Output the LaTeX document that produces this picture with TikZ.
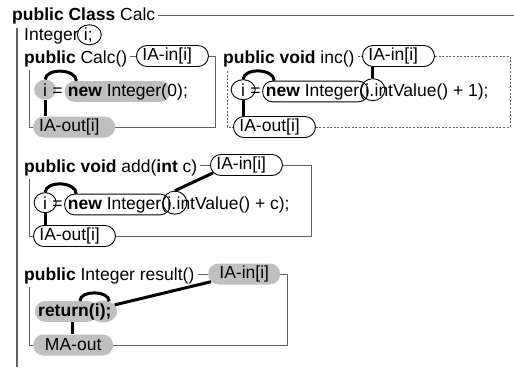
\documentclass[tikz,border=0pt]{standalone}
\usepackage{fontspec}
\setmainfont{Liberation Sans}
\usetikzlibrary{shapes.geometric,calc,fit,backgrounds}
\definecolor{shade}{gray}{0.75}
\definecolor{framegray}{gray}{0.38}
% a word space that survives at the end of a node
\newcommand{\gapsp}{\ \mbox{}}
\begin{document}
\begin{tikzpicture}[x=1bp,y=-1bp,
  font=\fontsize{17.5bp}{20bp}\selectfont,
  codetxt/.style={inner sep=0pt, anchor=base west},
  capsule/.style={rectangle, rounded corners=10.5bp, minimum height=21bp,
    inner xsep=6bp, inner ysep=0pt, anchor=west, align=left},
  wcap/.style={capsule, draw, line width=0.9bp},
  gcap/.style={capsule, fill=shade},
  ovell/.style={ellipse, inner sep=0pt, minimum width=22bp, minimum height=20bp},
  ovcap/.style={rectangle, rounded corners=10bp, inner xsep=3bp, inner ysep=2bp},
  wline/.style={draw, line width=0.9bp},
  gfill/.style={fill=shade},
  oframe/.style={draw=framegray, line width=1.6bp},
  mframe/.style={draw=framegray, line width=0.9bp},
  dframe/.style={draw=framegray, line width=0.9bp, dash pattern=on 2bp off 1.6bp},
  dflow/.style={line width=3bp},
]
\useasboundingbox (0,0) rectangle (514,367);

% class header and class frame
\node[codetxt] (cls) at (12,20) {\textbf{public Class} Calc};
\coordinate (clsE) at ([xshift=3bp]cls.east);
\coordinate (clsR) at (514,0);
\draw[mframe] (clsE) -- (clsE -| clsR);
\coordinate (clsT) at (17,28);
\coordinate (clsB) at (17,367);
\draw[oframe] (clsT) -- (clsB);

% field
\node[codetxt] (fld) at (24,40) {Integer\gapsp};
\node[codetxt] (fldi) at (fld.base east) {i;};
\node[ovell, wline, minimum width=24bp] (fldring) at ([xshift=1bp]fldi.center) {};

% ---- constructor Calc()
\node[codetxt] (ch) at (24,63) {\textbf{public} Calc()};
\coordinate (chE) at ([xshift=3bp]ch.east);
\node[wcap, text width=60bp] (cin) at (136,56) {IA-in[i]};
\draw[mframe] (chE |- cin.west) -- (cin.west);
\coordinate (cR) at (215,0);
\node[gcap, text width=70bp] (cout) at (33,127) {IA-out[i]};
\draw[mframe] (cin.east) -- (cin.east -| cR) |- (cout.east);
\coordinate (cL) at (29,70);
\draw[mframe] (cL) |- (cout.west);

\node[codetxt] (c1) at (43,96) {i};
\node[codetxt] (c2) at (c1.base east) {\gapsp=\gapsp};
\node[codetxt] (c3) at (c2.base east) {\textbf{new} Integer(};
\node[codetxt] (c4) at (c3.base east) {0);};
\begin{scope}[on background layer]
  \node[ovell, gfill] (cvar) at (c1.center) {};
  \node[ovcap, gfill, fit=(c3)] (cnew) {};
\end{scope}
\draw[dflow] (cvar.north) .. controls +(1,-12) and +(0,-12) .. ([xshift=12bp]cnew.north west);
\draw[dflow] (cvar.south) -- (cvar.south |- cout.north);

% ---- method inc()
\node[codetxt] (ih) at (223,63) {\textbf{public void} inc()};
\coordinate (ihE) at ([xshift=3bp]ih.east);
\node[wcap, text width=60bp] (iin) at (362,56) {IA-in[i]};
\draw[dframe] (ihE |- iin.west) -- (iin.west);
\coordinate (iR) at (510,0);
\node[wcap, text width=70bp] (iout) at (233,127) {IA-out[i]};
\draw[dframe] (iin.east) -- (iin.east -| iR) |- (iout.east);
\coordinate (iL) at (227,71);
\draw[dframe] (iL) |- (iout.west);

\node[codetxt] (i1) at (241,96) {i};
\node[codetxt] (i2) at (i1.base east) {\gapsp=\gapsp};
\node[codetxt] (i3) at (i2.base east) {\textbf{new} Integer(};
\node[codetxt] (i4) at (i3.base east) {i.};
\node[codetxt] (i5) at (i4.base east) {intValue() + 1);};
\node[ovell, wline, minimum width=24bp] (ivar) at (i1.center) {};
\node[ovcap, wline, fit=(i3)] (inew) {};
\node[ovell, wline, minimum width=24bp, minimum height=22bp] (iarg) at ([xshift=3bp]i4.center) {};
\draw[dflow] (ivar.north) .. controls +(1,-12) and +(0,-12) .. ([xshift=12bp]inew.north west);
\draw[dflow] (iin.south -| iarg.north) -- (iarg.north);
\draw[dflow] (ivar.south) -- (ivar.south |- iout.north);

% ---- method add(int c)
\node[codetxt] (ah) at (24,172) {\textbf{public void} add(\textbf{int} c)};
\coordinate (ahE) at ([xshift=3bp]ah.east);
\node[wcap, text width=60bp] (ain) at (210,165) {IA-in[i]};
\draw[mframe] (ahE |- ain.west) -- (ain.west);
\coordinate (aR) at (311,0);
\node[wcap, text width=70bp] (aout) at (33,236) {IA-out[i]};
\draw[mframe] (ain.east) -- (ain.east -| aR) |- (aout.east);
\coordinate (aL) at (29,179);
\draw[mframe] (aL) |- (aout.west);

\node[codetxt] (a1) at (43,209) {i};
\node[codetxt] (a2) at (a1.base east) {\gapsp=\gapsp};
\node[codetxt] (a3) at (a2.base east) {\textbf{new} Integer(};
\node[codetxt] (a4) at (a3.base east) {i.};
\node[codetxt] (a5) at (a4.base east) {intValue() + c);};
\node[ovell, wline] (avar) at (a1.center) {};
\node[ovcap, wline, fit=(a3)] (anew) {};
\node[ovell, wline, minimum width=24bp, minimum height=23bp] (aarg) at ([xshift=3bp]a4.center) {};
\draw[dflow] (avar.north) .. controls +(1,-12) and +(0,-12) .. ([xshift=12bp]anew.north west);
\draw[dflow] ([xshift=3bp,yshift=3bp]ain.south west) -- (aarg.north);
\draw[dflow] (avar.south) -- (avar.south |- aout.north);

% ---- method result()
\node[codetxt] (rh) at (24,280) {\textbf{public} Integer result()};
\coordinate (rhE) at ([xshift=3bp]rh.east);
\node[gcap, text width=60bp, align=center] (rin) at (208,274) {IA-in[i]};
\draw[mframe] (rhE |- rin.west) -- (rin.west);
\coordinate (rR) at (287,0);
\node[gcap, text width=68bp, align=center] (rout) at (33,345) {MA-out};
\draw[mframe] (rin.east) -- (rin.east -| rR) |- (rout.east);
\coordinate (rL) at (29,287);
\draw[mframe] (rL) |- (rout.west);

\node[codetxt] (r1) at (38,316) {\textbf{return(}};
\node[codetxt] (r2) at (r1.base east) {\textbf{i);}};
\begin{scope}[on background layer]
  \node[ovcap, gfill, fit=(r1)] (rret) {};
  \node[ovell, gfill, minimum width=28bp, minimum height=22bp] (rval) at (r2.center) {};
\end{scope}
\draw[dflow] ([xshift=-18bp]rret.north east) .. controls +(0,-11) and +(0,-11) .. (rval.60);
\draw[dflow] ([xshift=3bp,yshift=3bp]rin.south west) -- (rval.30);
\coordinate (rretS) at ([xshift=6bp]rret.south);
\draw[dflow] (rretS) -- (rretS |- rout.north);
\end{tikzpicture}
\end{document}
